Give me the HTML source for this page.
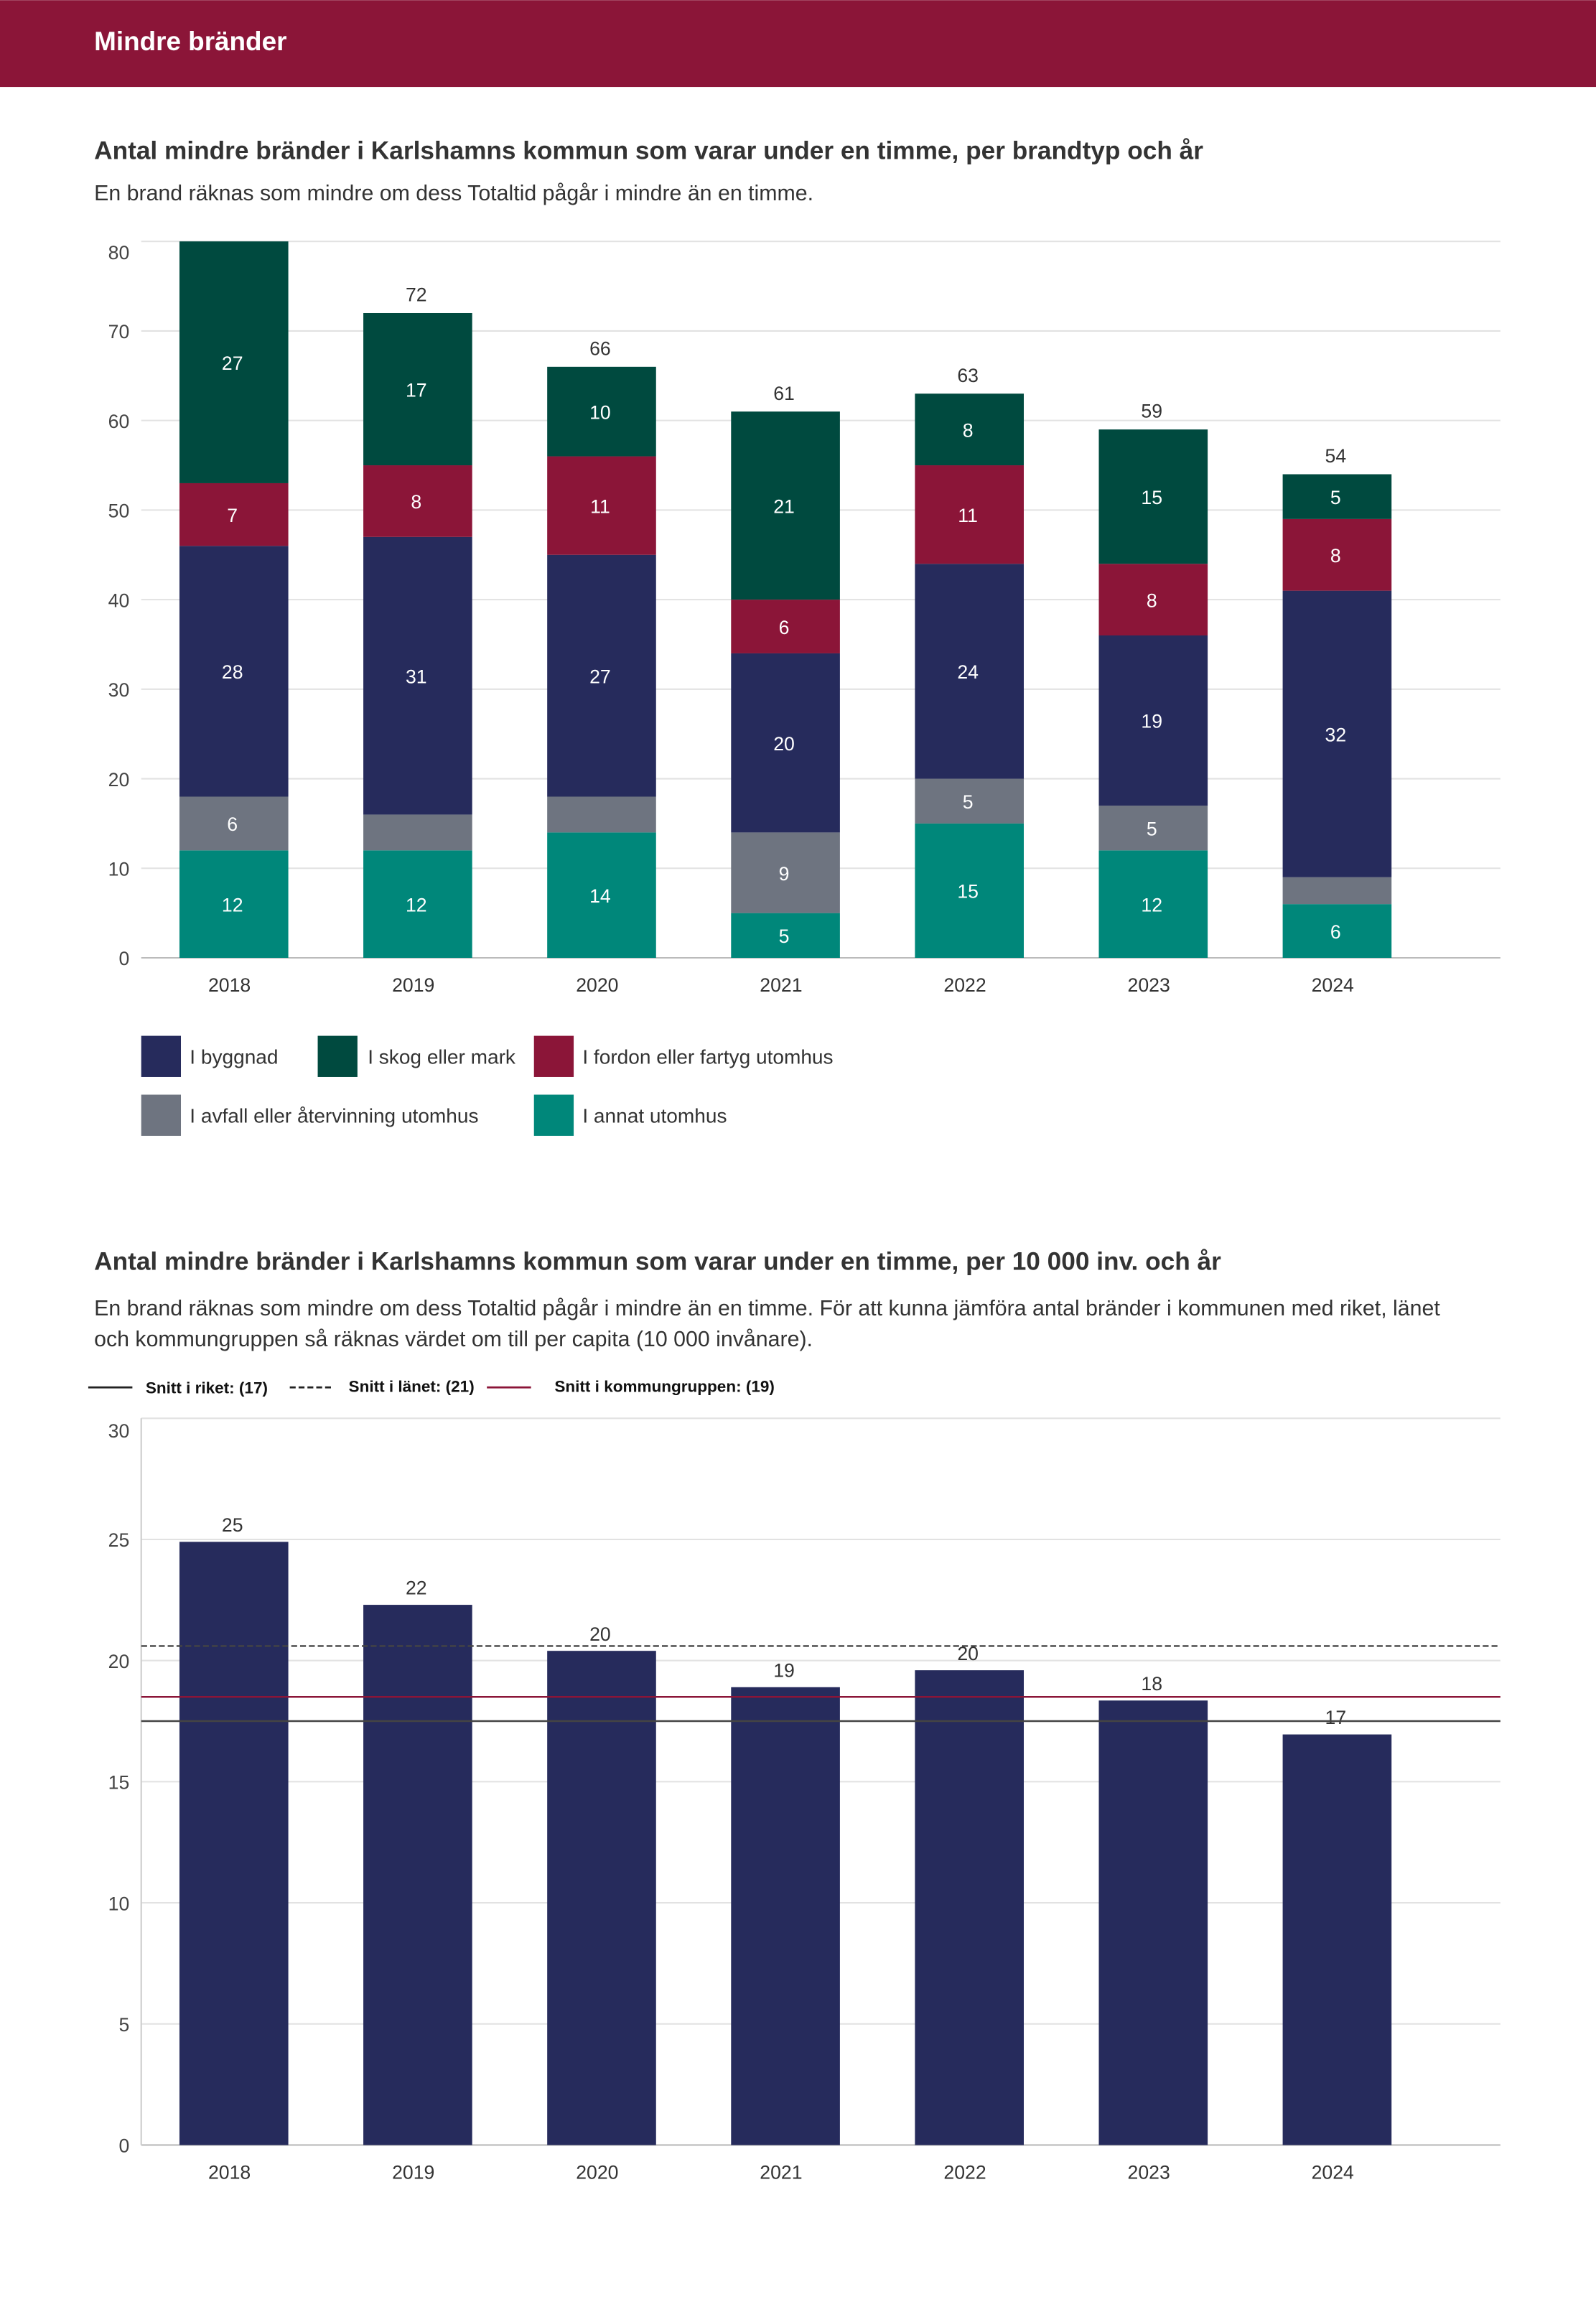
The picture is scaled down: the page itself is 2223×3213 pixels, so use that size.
<!DOCTYPE html>
<html><head><meta charset="utf-8">
<style>
html,body{margin:0;padding:0;background:#fff;}
svg{display:block;font-family:"Liberation Sans",sans-serif;}
</style></head>
<body>
<svg id="page" width="2223" height="3213" viewBox="0 0 1085 1568" xmlns="http://www.w3.org/2000/svg">
<rect x="0" y="0" width="1085" height="59" fill="#8B1538"/>
<text x="64" y="34" font-size="18" font-weight="bold" fill="#fff">Mindre bränder</text>
<text x="64" y="108" font-size="17.2" font-weight="bold" fill="#333">Antal mindre bränder i Karlshamns kommun som varar under en timme, per brandtyp och år</text>
<text x="64" y="136" font-size="14.8" fill="#333">En brand räknas som mindre om dess Totaltid pågår i mindre än en timme.</text>
<g id="c1"></g>
<g>
<rect x="96" y="704" width="27" height="28" fill="#262B5C"/>
<text x="129" y="723" font-size="13.7" fill="#333">I byggnad</text>
<rect x="216" y="704" width="27" height="28" fill="#004A3F"/>
<text x="250" y="723" font-size="13.7" fill="#333">I skog eller mark</text>
<rect x="363" y="704" width="27" height="28" fill="#8B1538"/>
<text x="396" y="723" font-size="13.7" fill="#333">I fordon eller fartyg utomhus</text>
<rect x="96" y="744" width="27" height="28" fill="#6E7480"/>
<text x="129" y="763" font-size="13.7" fill="#333">I avfall eller återvinning utomhus</text>
<rect x="363" y="744" width="27" height="28" fill="#00877A"/>
<text x="396" y="763" font-size="13.7" fill="#333">I annat utomhus</text>
</g>
<text x="64" y="863" font-size="17.2" font-weight="bold" fill="#333">Antal mindre bränder i Karlshamns kommun som varar under en timme, per 10 000 inv. och år</text>
<text x="64" y="894" font-size="14.8" fill="#333">En brand räknas som mindre om dess Totaltid pågår i mindre än en timme. För att kunna jämföra antal bränder i kommunen med riket, länet</text>
<text x="64" y="915" font-size="14.8" fill="#333">och kommungruppen så räknas värdet om till per capita (10 000 invånare).</text>
<g>
<line x1="60" y1="943" x2="90" y2="943" stroke="#222" stroke-width="1.3"/>
<text x="99" y="947" font-size="11" font-weight="bold" fill="#111">Snitt i riket: (17)</text>
<line x1="197" y1="943" x2="227" y2="943" stroke="#222" stroke-width="1.3" stroke-dasharray="4,2"/>
<text x="237" y="946" font-size="11" font-weight="bold" fill="#111">Snitt i länet: (21)</text>
<line x1="331" y1="943" x2="361" y2="943" stroke="#8B1538" stroke-width="1.3"/>
<text x="377" y="946" font-size="11" font-weight="bold" fill="#111">Snitt i kommungruppen: (19)</text>
</g>
<g id="c2"></g>
</svg>
<script>
const years = ["2018","2019","2020","2021","2022","2023","2024"];
const annat = [12,12,14,5,15,12,6];
const avfall = [6,4,4,9,5,5,3];
const byggnad = [28,31,27,20,24,19,32];
const fordon = [7,8,11,6,11,8,8];
const skog = [27,17,10,21,8,15,5];
const ticks1 = [0,10,20,30,40,50,60,70,80];
const perCapita = [24.9,22.3,20.4,18.9,19.6,18.35,16.95];
const perCapitaLabels = ["25","22","20","19","20","18","17"];
const ticks2 = [0,5,10,15,20,25,30];
const snittRiket = [17.5];
const snittLanet = [20.6];
const snittKommungrupp = [18.5];

const NS="http://www.w3.org/2000/svg";
function mk(parent,tag,attrs,text){const e=document.createElementNS(NS,tag);for(const k in attrs)e.setAttribute(k,attrs[k]);if(text!==undefined)e.textContent=text;parent.appendChild(e);return e;}
function xBand(i){return 96.5+125*i+62.5;}
const barW=74;

// chart 1
const c1=document.getElementById('c1');
const y1=v=>651-v*(487/80);
ticks1.forEach(t=>{
  const g=mk(c1,'line',{x1:96,x2:1020,y1:y1(t),y2:y1(t),stroke:t===0?'#bbb':'#e2e2e2','stroke-width':1});
  
  
  const l=mk(c1,'text',{x:88,y:t===80?y1(t)+12:y1(t)+5,'text-anchor':'end','font-size':13,fill:'#444'},String(t));
  
  
});
const series=[["annat",annat,"#00877A"],["avfall",avfall,"#6E7480"],["byggnad",byggnad,"#262B5C"],["fordon",fordon,"#8B1538"],["skog",skog,"#004A3F"]];
years.forEach((yr,i)=>{
  let base=0;const cx=xBand(i);
  series.forEach(([nm,arr,col])=>{
    const v=arr[i];
    const r=mk(c1,'rect',{x:cx-barW/2,y:y1(base+v),width:barW,height:y1(base)-y1(base+v),fill:col});
    
    
    if(v>=5){
      const t=mk(c1,'text',{x:cx-1,y:(y1(base)+y1(base+v))/2+5,'text-anchor':'middle','font-size':13,fill:'#fff'},String(v));
      
      
    }
    base+=v;
  });
  if(base<80){
    const t=mk(c1,'text',{x:cx-1,y:y1(base)-8,'text-anchor':'middle','font-size':13,fill:'#333'},String(base));
    
    
  }
  const xl=mk(c1,'text',{x:cx-3,y:674,'text-anchor':'middle','font-size':13,fill:'#333'},yr);
  
  
});

// chart 2
const c2=document.getElementById('c2');
const y2=v=>1458-v*(494/30);
ticks2.forEach(t=>{
  const g=mk(c2,'line',{x1:96,x2:1020,y1:y2(t),y2:y2(t),stroke:t===0?'#bbb':'#e2e2e2','stroke-width':1});
  
  
  const l=mk(c2,'text',{x:88,y:t===30?y2(t)+13:y2(t)+5,'text-anchor':'end','font-size':13,fill:'#444'},String(t));
  
  
});
const ax=mk(c2,'line',{x1:96,x2:96,y1:y2(30),y2:y2(0),stroke:'#ccc','stroke-width':1});


years.forEach((yr,i)=>{
  const cx=xBand(i);const v=perCapita[i];
  const r=mk(c2,'rect',{x:cx-barW/2,y:y2(v),width:barW,height:y2(0)-y2(v),fill:'#262B5C'});
  
  
  const t=mk(c2,'text',{x:cx-1,y:y2(v)-7,'text-anchor':'middle','font-size':13,fill:'#333'},perCapitaLabels[i]);
  
  
  const xl=mk(c2,'text',{x:cx-3,y:1481,'text-anchor':'middle','font-size':13,fill:'#333'},yr);
  
  
});
const l1=mk(c2,'line',{x1:96,x2:1020,y1:y2(snittLanet[0]),y2:y2(snittLanet[0]),stroke:'#444','stroke-width':1.2,'stroke-dasharray':'4,2'});


const l2=mk(c2,'line',{x1:96,x2:1020,y1:y2(snittKommungrupp[0]),y2:y2(snittKommungrupp[0]),stroke:'#8B1538','stroke-width':1.2});


const l3=mk(c2,'line',{x1:96,x2:1020,y1:y2(snittRiket[0]),y2:y2(snittRiket[0]),stroke:'#444','stroke-width':1.2});


</script>
</body></html>
